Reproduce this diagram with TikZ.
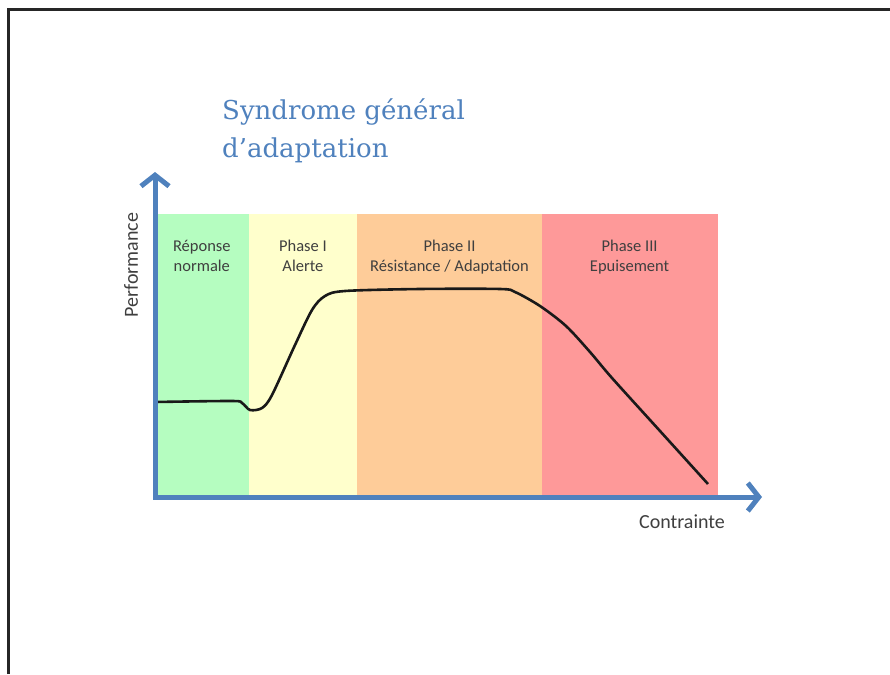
\documentclass[tikz,border=0pt]{standalone}
\usepackage{fontspec}
\setmainfont{Carlito}
\newfontfamily\titlefont{DejaVu Serif}
\usetikzlibrary{positioning,arrows.meta}

\definecolor{axisblue}{HTML}{4F81BD}
\definecolor{lbl}{HTML}{3F3F3F}
\definecolor{normalgreen}{HTML}{B5FDC0}
\definecolor{alertyellow}{HTML}{FFFFCC}
\definecolor{resistorange}{HTML}{FECC99}
\definecolor{exhaustred}{HTML}{FE9999}

\begin{document}
\begin{tikzpicture}[x=1pt, y=-1pt, node distance=23pt]
  \tikzstyle{band} = [rectangle, inner sep=0pt, line width=0.6pt,
  minimum height=283pt, anchor=north west]
  \tikzstyle{phase} = [align=center, text=lbl,
  font=\fontsize{16.5}{19.5}\selectfont]
  \tikzstyle{axis} = [axisblue, line width=5pt, line cap=rect,
  -{Straight Barb[length=11pt, width=28pt]}]
  \tikzstyle{axlabel} = [text=lbl, font=\fontsize{20}{24}\selectfont]

  \useasboundingbox (0,0) rectangle (890,674);
  \draw[line width=3pt, black!85] (8,674) -- (8,10) -- (890,10);

  % Title
  \node[anchor=base west, align=left, text=axisblue, inner sep=0pt,
  font=\titlefont\fontsize{26}{37}\selectfont] (title) at (222,157)
  {Syndrome général\\d’adaptation};

  % Define phase bands
  \node[band, fill=normalgreen, draw=normalgreen, minimum width=93pt] (green) at (155,214) {};
  \node[band, fill=alertyellow, draw=alertyellow, minimum width=108pt] (yellow) at (green.north east) {};
  \node[band, fill=resistorange, draw=resistorange, minimum width=184pt] (orange) at (yellow.north east) {};
  \node[band, fill=exhaustred, draw=exhaustred, minimum width=175pt] (red) at (orange.north east) {};

  \node[phase, below=of green.north] (lgreen) {Réponse\\normale};
  \node[phase, below=of yellow.north] (lyellow) {Phase I\\Alerte};
  \node[phase, below=of orange.north] (lorange) {Phase II\\Résistance / Adaptation};
  \node[phase, below=of red.north] (lred) {Phase III\\Epuisement};

  % Response curve
  \draw[line width=2.6pt, black!90, line join=round] plot[smooth, tension=0.5]
  coordinates {(155,402) (232,401) (242,403) (250,410) (262,408) (272,395)
  (295,345) (312,310) (325,296) (345,291) (420,289) (500,289) (515,292)
  (540,306) (566,326) (590,352) (612,378) (660,431) (708,484)};

  % Axes
  \coordinate (O) at (155,497);
  \coordinate (ytip) at (155,172);
  \coordinate (xtip) at (762,497);
  \draw[axis] (O) -- (ytip);
  \draw[axis] (O) -- (xtip);

  \node[axlabel, rotate=90] (perf) at (131,265) {Performance};
  \node[axlabel] (contr) at (682,522) {Contrainte};
\end{tikzpicture}
\end{document}
